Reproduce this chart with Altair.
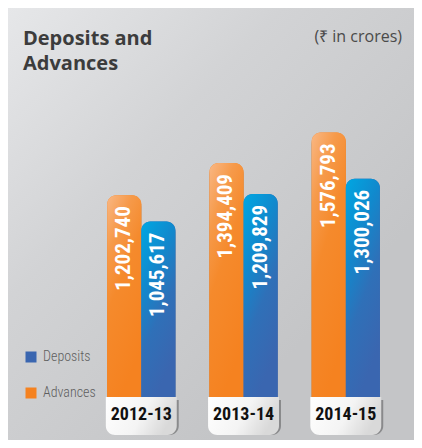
import altair as alt
import pandas as pd

categories = ["2012-13", "2013-14", "2014-15"]
advances = [1202740, 1394409, 1576793]
deposits = [1045617, 1209829, 1300026]
series_names = ["Advances", "Deposits"]
title_line1 = "Deposits and"
title_line2 = "Advances"
unit_note = "(₹ in crores)"

rows = []
for c, a, d in zip(categories, advances, deposits):
    rows.append({"category": c, "series": "Advances", "value": a, "label": f"{a:,}"})
    rows.append({"category": c, "series": "Deposits", "value": d, "label": f"{d:,}"})
df = pd.DataFrame(rows)

W, H = 406, 432
NARROW = "Roboto Condensed, Liberation Sans Narrow, DejaVu Sans Condensed, sans-serif"
ORANGE = "#f58220"
BLUE = "#3a66b0"

xs = alt.X("category:N", sort=categories, axis=None,
           scale=alt.Scale(paddingInner=0.333, paddingOuter=0.652, align=0.744))
xo = alt.XOffset("series:N", sort=series_names, scale=alt.Scale(paddingInner=0, paddingOuter=0))
ys = alt.Y("value:Q", axis=None,
           scale=alt.Scale(domain=[-256257, 2318236], nice=False, zero=False))

base = alt.Chart(df)
one = pd.DataFrame({"a": [0]})

bg = alt.Chart(one).mark_rect(
    color=alt.Gradient(gradient="linear", x1=0, y1=0, x2=0.75, y2=0.75,
                       stops=[alt.GradientStop(color="#e6e7e9", offset=0),
                              alt.GradientStop(color="#d2d3d5", offset=0.45),
                              alt.GradientStop(color="#c4c5c7", offset=1)])
).encode(x=alt.value(0), x2=alt.value(W), y=alt.value(0), y2=alt.value(H))

shadow = base.mark_bar(color="#000000", opacity=0.22, xOffset=3, yOffset=2,
                       cornerRadiusTopLeft=9, cornerRadiusTopRight=9).encode(
    x=xs, xOffset=xo, y=ys, y2=alt.datum(0))
shadow2 = base.mark_bar(color="#000000", opacity=0.12, xOffset=5, yOffset=3,
                        cornerRadiusTopLeft=9, cornerRadiusTopRight=9).encode(
    x=xs, xOffset=xo, y=ys, y2=alt.datum(0))

bars = base.mark_bar(cornerRadiusTopLeft=9, cornerRadiusTopRight=9).encode(
    x=xs, xOffset=xo, y=ys, y2=alt.datum(0),
    color=alt.Color("series:N",
                    scale=alt.Scale(domain=["Deposits", "Advances"], range=[BLUE, ORANGE]),
                    legend=alt.Legend(orient="none", legendX=16, legendY=342, title=None,
                                      symbolType="square", symbolSize=121, symbolStrokeWidth=0,
                                      labelFont=NARROW, labelFontSize=14, labelFontWeight=300,
                                      labelColor="#5e5e5e", labelOffset=5, rowPadding=22)))

orange_grad = alt.Gradient(gradient="linear", x1=0, y1=0, x2=0.4, y2=1,
                           stops=[alt.GradientStop(color="#f9b784", offset=0),
                                  alt.GradientStop(color="#f69a4a", offset=0.25),
                                  alt.GradientStop(color="#f58a2c", offset=0.5),
                                  alt.GradientStop(color=ORANGE, offset=1)])
blue_grad = alt.Gradient(gradient="linear", x1=0, y1=0, x2=0.4, y2=1,
                         stops=[alt.GradientStop(color="#00a7e2", offset=0),
                                alt.GradientStop(color="#1189cd", offset=0.35),
                                alt.GradientStop(color="#2f70b8", offset=0.65),
                                alt.GradientStop(color=BLUE, offset=1)])

bars_adv = base.transform_filter(alt.datum.series == "Advances").mark_bar(
    color=orange_grad, cornerRadiusTopLeft=9, cornerRadiusTopRight=9).encode(
    x=xs, xOffset=xo, y=ys, y2=alt.datum(0))
bars_dep = base.transform_filter(alt.datum.series == "Deposits").mark_bar(
    color=blue_grad, cornerRadiusTopLeft=9, cornerRadiusTopRight=9).encode(
    x=xs, xOffset=xo, y=ys, y2=alt.datum(0))

values = base.mark_text(angle=270, align="right", baseline="middle", dx=-11,
                        font=NARROW, fontWeight="bold", fontSize=21, color="white").encode(
    x=xs, xOffset=xo, y=ys, text="label:N")

cat_df = pd.DataFrame({"category": categories})
box_shadow = alt.Chart(cat_df).mark_bar(
    color="#000000", opacity=0.3, xOffset=2, yOffset=3,
    width=alt.RelativeBandSize(band=1.04),
    cornerRadiusBottomLeft=9, cornerRadiusBottomRight=9).encode(
    x=xs, y=alt.value(389), y2=alt.value(427))
box = alt.Chart(cat_df).mark_bar(
    color=alt.Gradient(gradient="linear", x1=0, y1=0, x2=1, y2=0.3,
                       stops=[alt.GradientStop(color="#ffffff", offset=0),
                              alt.GradientStop(color="#f4f4f4", offset=0.6),
                              alt.GradientStop(color="#d9d9d9", offset=1)]),
    width=alt.RelativeBandSize(band=1.04),
    cornerRadiusBottomLeft=9, cornerRadiusBottomRight=9).encode(
    x=xs, y=alt.value(389), y2=alt.value(427))
box_text = alt.Chart(cat_df).mark_text(
    font=NARROW, fontWeight="bold", fontSize=18, color="#111111", baseline="alphabetic").encode(
    x=xs, y=alt.value(412), text="category:N")

title1 = alt.Chart(one).mark_text(
    text=title_line1, align="left", baseline="alphabetic",
    font="Open Sans", fontWeight="bold", fontSize=20, color="#3c3c3c").encode(
    x=alt.value(15), y=alt.value(37))
title2 = alt.Chart(one).mark_text(
    text=title_line2, align="left", baseline="alphabetic",
    font="Open Sans", fontWeight="bold", fontSize=20, color="#3c3c3c").encode(
    x=alt.value(15), y=alt.value(62))
note = alt.Chart(one).mark_text(
    text=unit_note, align="right", baseline="alphabetic",
    font="Open Sans", fontSize=16, color="#4a4a4a").encode(
    x=alt.value(394), y=alt.value(34))

chart = alt.layer(bg, shadow2, shadow, bars, bars_adv, bars_dep, values,
                  box_shadow, box, box_text, title1, title2, note).properties(
    width=W, height=H, autosize=alt.AutoSizeParams(type="none"), padding=0
).configure_view(strokeWidth=0).configure(background="white")

chart.save("out.html", embed_options={"renderer": "svg", "actions": False})
